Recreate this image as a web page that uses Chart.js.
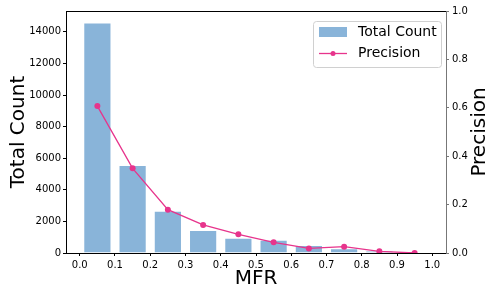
<!DOCTYPE html>
<html>
<head>
<meta charset="utf-8">
<script src="https://cdn.jsdelivr.net/npm/chart.js@4/dist/chart.umd.min.js"></script>
<style>
  html, body { margin: 0; padding: 0; background: #fff; }
  #wrap { width: 498px; height: 299px; }
</style>
</head>
<body>
<div id="wrap"><canvas id="grafico"></canvas></div>
<script>
// Datos
const mfrBins = [0.05, 0.15, 0.25, 0.35, 0.45, 0.55, 0.65, 0.75, 0.85, 0.95];
const totalCount = [14590, 5575, 2680, 1457, 970, 843, 507, 296, 150, 30];
const precision = [0.607, 0.35, 0.179, 0.116, 0.077, 0.044, 0.019, 0.026, 0.007, 0.0];

const xTicks = [0, 0.1, 0.2, 0.3, 0.4, 0.5, 0.6, 0.7, 0.8, 0.9, 1.0];
const countTicks = [0, 2000, 4000, 6000, 8000, 10000, 12000, 14000];
const precisionTicks = [0, 0.2, 0.4, 0.6, 0.8, 1.0];

const BAR_COLOR = '#89b4d9';
const LINE_COLOR = '#e7348c';
const FONT = 'DejaVu Sans';

// Marco superior + leyenda + título del eje derecho (girado como en matplotlib)
const extras = {
  id: 'extras',
  afterDraw(chart) {
    const { ctx, chartArea: a } = chart;
    ctx.save();
    ctx.strokeStyle = '#000';
    ctx.lineWidth = 1;
    ctx.beginPath();
    ctx.moveTo(a.left, a.top + 0.5);
    ctx.lineTo(a.right, a.top + 0.5);
    ctx.stroke();

    // título derecho
    ctx.fillStyle = '#000';
    ctx.font = `20px "${FONT}"`;
    ctx.textAlign = 'center';
    ctx.textBaseline = 'middle';
    ctx.translate(480, (a.top + a.bottom) / 2);
    ctx.rotate(-Math.PI / 2);
    ctx.fillText('Precision', 0, 0);
    ctx.restore();

    // leyenda
    const [lineDs, barDs] = chart.data.datasets;
    const bx = 313.5, by = 21.5, bw = 128, bh = 46;
    ctx.save();
    ctx.fillStyle = 'rgba(255,255,255,0.8)';
    ctx.strokeStyle = '#d0d0d0';
    ctx.lineWidth = 1;
    ctx.beginPath();
    ctx.roundRect(bx, by, bw, bh, 3);
    ctx.fill();
    ctx.stroke();

    ctx.fillStyle = barDs.backgroundColor;
    ctx.fillRect(319, 27, 28, 10);

    ctx.strokeStyle = lineDs.borderColor;
    ctx.lineWidth = 1.3;
    ctx.beginPath();
    ctx.moveTo(319, 53.5);
    ctx.lineTo(347, 53.5);
    ctx.stroke();
    ctx.fillStyle = lineDs.borderColor;
    ctx.beginPath();
    ctx.arc(333, 53.5, 2.5, 0, Math.PI * 2);
    ctx.fill();

    ctx.fillStyle = '#000';
    ctx.font = `14px "${FONT}"`;
    ctx.textAlign = 'left';
    ctx.textBaseline = 'middle';
    ctx.fillText(barDs.label, 358, 32.5);
    ctx.fillText(lineDs.label, 358, 53.5);
    ctx.restore();
  }
};

const ctx = document.getElementById('grafico').getContext('2d');
new Chart(ctx, {
  type: 'bar',
  data: {
    datasets: [
      {
        type: 'line',
        label: 'Precision',
        data: mfrBins.map((x, i) => ({ x, y: precision[i] })),
        yAxisID: 'y1',
        borderColor: LINE_COLOR,
        backgroundColor: LINE_COLOR,
        borderWidth: 1.3,
        pointRadius: 3,
        pointBorderWidth: 0,
        pointBackgroundColor: LINE_COLOR,
        tension: 0,
        order: 0
      },
      {
        type: 'bar',
        label: 'Total Count',
        data: mfrBins.map((x, i) => ({ x, y: totalCount[i] })),
        yAxisID: 'y',
        backgroundColor: BAR_COLOR,
        borderColor: 'rgba(255,255,255,0.45)',
        borderWidth: 1,
        barPercentage: 0.8,
        categoryPercentage: 1,
        order: 1
      }
    ]
  },
  options: {
    responsive: true,
    maintainAspectRatio: false,
    animation: false,
    layout: { padding: { top: 11, left: 0, right: 0, bottom: 0 } },
    plugins: { legend: { display: false }, tooltip: { enabled: false } },
    scales: {
      x: {
        type: 'linear',
        min: -0.039,
        max: 1.039,
        offset: false,
        z: 1,
        afterBuildTicks: s => { s.ticks = xTicks.map(v => ({ value: v })); },
        afterFit: s => { s.height = 46; },
        grid: { offset: false, drawOnChartArea: false, drawTicks: true, tickLength: 3, color: '#000' },
        border: { display: true, color: '#000', width: 1 },
        ticks: {
          autoSkip: false, maxRotation: 0, padding: 3, color: '#000',
          font: { family: FONT, size: 10 },
          callback: v => Number(v).toFixed(1)
        },
        title: {
          display: true, text: 'MFR', color: '#000',
          font: { family: FONT, size: 20 }, padding: { top: 0, bottom: 8 }
        }
      },
      y: {
        position: 'left',
        min: 0,
        max: 15320,
        z: 1,
        afterBuildTicks: s => { s.ticks = countTicks.map(v => ({ value: v })); },
        afterFit: s => { s.width = 66; },
        grid: { drawOnChartArea: false, drawTicks: true, tickLength: 3, color: '#000' },
        border: { display: true, color: '#000', width: 1 },
        ticks: {
          padding: 2, color: '#000',
          font: { family: FONT, size: 10 },
          callback: v => String(v)
        },
        title: {
          display: true, text: 'Total Count', color: '#000',
          font: { family: FONT, size: 20 }, padding: { top: 7, bottom: 0 }
        }
      },
      y1: {
        position: 'right',
        min: 0,
        max: 1,
        z: 1,
        afterBuildTicks: s => { s.ticks = precisionTicks.map(v => ({ value: v })); },
        afterFit: s => { s.width = 52; },
        grid: { drawOnChartArea: false, drawTicks: true, tickLength: 3, color: '#777' },
        border: { display: true, color: '#777', width: 1 },
        ticks: {
          padding: 3, color: '#000',
          font: { family: FONT, size: 10 },
          callback: v => Number(v).toFixed(1)
        }
      }
    }
  },
  plugins: [extras]
});
</script>
</body>
</html>
